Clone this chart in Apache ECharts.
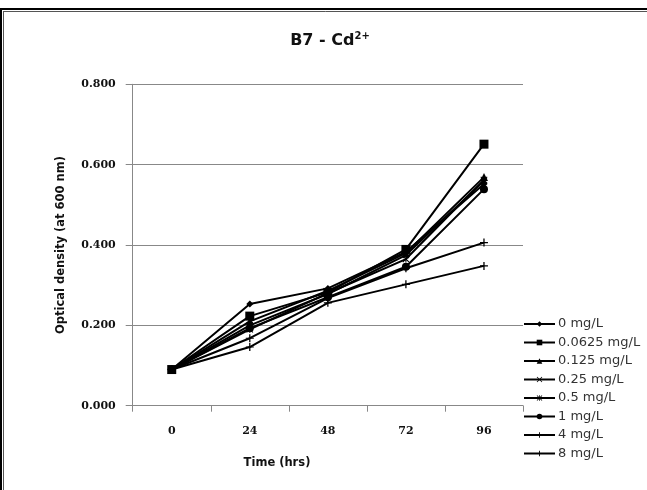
<!DOCTYPE html>
<html>
<head>
<meta charset="utf-8">
<script src="https://cdn.jsdelivr.net/npm/echarts@6/dist/echarts.min.js"></script>
<style>
html,body{margin:0;padding:0;background:#fff;}
#chart{width:647px;height:490px;}
</style>
</head>
<body>
<div id="chart"></div>
<script>
// Data
var timeLabels = ['0', '24', '48', '72', '96'];
var seriesNames = ['0 mg/L', '0.0625 mg/L', '0.125 mg/L', '0.25 mg/L', '0.5 mg/L', '1 mg/L', '4 mg/L', '8 mg/L'];
var od_0      = [0.090, 0.253, 0.292, 0.383, 0.552];
var od_0625   = [0.090, 0.223, 0.282, 0.389, 0.651];
var od_125    = [0.090, 0.210, 0.286, 0.380, 0.569];
var od_25     = [0.090, 0.200, 0.278, 0.375, 0.560];
var od_5      = [0.090, 0.190, 0.280, 0.365, 0.562];
var od_1      = [0.090, 0.193, 0.270, 0.346, 0.539];
var od_4      = [0.090, 0.168, 0.268, 0.342, 0.406];
var od_8      = [0.090, 0.146, 0.256, 0.302, 0.348];
var yTicks = ['0.000', '0.200', '0.400', '0.600', '0.800'];

var seriesData = [od_0, od_0625, od_125, od_25, od_5, od_1, od_4, od_8];

var X_PATH = 'path://M0,1L1,0L5,4L9,0L10,1L6,5L10,9L9,10L5,6L1,10L0,9L4,5Z';
var STAR_PATH = 'path://M0,1L1,0L5,4L9,0L10,1L6,5L10,9L9,10L5,6L1,10L0,9L4,5Z M4.3,0L5.7,0L5.7,10L4.3,10Z';
var PLUS_PATH = 'path://M4.2,0L5.8,0L5.8,4.3L10,4.3L10,5.7L5.8,5.7L5.8,10L4.2,10L4.2,5.7L0,5.7L0,4.3L4.2,4.3Z';
var symbols = ['diamond', 'rect', 'triangle', X_PATH, STAR_PATH, 'circle', PLUS_PATH, PLUS_PATH];
var symbolSizes = [7, 9, 8, 7, 7, 8, 8, 8];

var chart = echarts.init(document.getElementById('chart'), null, {renderer: 'canvas'});

var series = seriesNames.map(function (name, i) {
  return {
    name: name,
    type: 'line',
    data: seriesData[i],
    symbol: symbols[i],
    symbolSize: symbolSizes[i],
    showSymbol: true,
    showAllSymbol: true,
    lineStyle: {color: '#000', width: 2},
    itemStyle: {color: '#000', borderColor: '#000', borderWidth: 0},
    emphasis: {disabled: true},
    animation: false
  };
});

chart.setOption({
  animation: false,
  backgroundColor: '#fff',
  grid: {left: 132.7, right: 124, top: 84.3, bottom: 84.3, containLabel: false},
  xAxis: {
    type: 'category',
    data: timeLabels,
    boundaryGap: true,
    axisLine: {lineStyle: {color: '#888', width: 1}},
    axisTick: {show: true, length: 6, lineStyle: {color: '#888'}},
    axisLabel: {color: '#111', fontFamily: 'DejaVu Serif', fontWeight: 'bold', fontSize: 11, margin: 20},
    splitLine: {show: false}
  },
  yAxis: {
    type: 'value',
    min: 0, max: 0.8, interval: 0.2,
    name: 'Optical density (at 600 nm)',
    nameLocation: 'middle',
    nameGap: 66,
    nameTextStyle: {color: '#111', fontFamily: 'DejaVu Sans', fontWeight: 'bold', fontSize: 11.5},
    axisLine: {show: true, lineStyle: {color: '#888', width: 1}},
    axisTick: {show: true, length: 7, lineStyle: {color: '#888'}},
    axisLabel: {
      color: '#111', fontFamily: 'DejaVu Serif', fontWeight: 'bold', fontSize: 11, margin: 17,
      align: 'right',
      formatter: function (v) { var idx = Math.round(v / 0.2); return yTicks[idx]; }
    },
    splitLine: {show: true, lineStyle: {color: '#888', width: 1}}
  },
  legend: {
    show: true,
    orient: 'vertical',
    left: 523,
    top: 317,
    itemWidth: 31,
    itemHeight: 7,
    itemGap: 4.5,
    padding: 0,
    textStyle: {color: '#333', fontFamily: 'DejaVu Sans', fontSize: 13, lineHeight: 14, padding: [0, 0, 0, -2]},
    data: seriesNames
  },
  graphic: [
    {type: 'line', shape: {x1: 0, y1: 9, x2: 647, y2: 9}, style: {stroke: '#000', lineWidth: 2}, silent: true},
    {type: 'line', shape: {x1: 3.5, y1: 11.5, x2: 647, y2: 11.5}, style: {stroke: '#555', lineWidth: 1}, silent: true},
    {type: 'line', shape: {x1: 1, y1: 8, x2: 1, y2: 490}, style: {stroke: '#000', lineWidth: 2}, silent: true},
    {type: 'line', shape: {x1: 3.5, y1: 11, x2: 3.5, y2: 490}, style: {stroke: '#555', lineWidth: 1}, silent: true},
    {
      type: 'text', silent: true,
      style: {
        x: 330, y: 41, align: 'center', verticalAlign: 'middle',
        text: '{b|B7 - Cd}{s|2+}',
        rich: {
          b: {fontFamily: 'DejaVu Sans', fontWeight: 'bold', fontSize: 16, fill: '#111', lineHeight: 20},
          s: {fontFamily: 'DejaVu Sans', fontWeight: 'bold', fontSize: 10, fill: '#111', lineHeight: 20, verticalAlign: 'top'}
        }
      }
    },
    {
      type: 'text', silent: true,
      style: {
        x: 277, y: 463, text: 'Time (hrs)', align: 'center', verticalAlign: 'middle',
        fontFamily: 'DejaVu Sans', fontWeight: 'bold', fontSize: 11.5, fill: '#111'
      }
    }
  ],
  series: series
});
</script>
</body>
</html>
